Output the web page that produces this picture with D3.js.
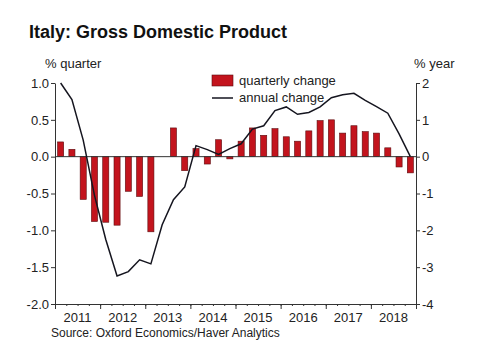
<!DOCTYPE html>
<html>
<head>
<meta charset="utf-8">
<script src="https://d3js.org/d3.v7.min.js"></script>
<style>
  html, body { margin: 0; padding: 0; background: #fff; }
  svg { display: block; font-family: "Liberation Sans", Arial, sans-serif; }
</style>
</head>
<body>
<div id="chart"></div>
<script>
// Italy GDP - quarterly change (bars, left axis) and annual change (line, right axis)
const years = [2011, 2012, 2013, 2014, 2015, 2016, 2017, 2018];
const quarters = years.flatMap(y => ['Q1', 'Q2', 'Q3', 'Q4'].map(q => y + q));

const quarterlyChange = [
  0.20, 0.10, -0.58, -0.88,
  -0.89, -0.93, -0.47, -0.54,
  -1.02, 0.00, 0.39, -0.19,
  0.11, -0.10, 0.23, -0.03,
  0.21, 0.39, 0.29, 0.38,
  0.27, 0.21, 0.35, 0.49,
  0.50, 0.32, 0.42, 0.34,
  0.32, 0.12, -0.14, -0.22
];

const annualChange = [
  2.00, 1.55, 0.45, -1.05,
  -2.25, -3.24, -3.12, -2.80,
  -2.91, -1.85, -1.17, -0.82,
  0.30, 0.19, 0.06, 0.22,
  0.35, 0.75, 0.84, 1.25,
  1.35, 1.15, 1.20, 1.35,
  1.60, 1.68, 1.72, 1.53,
  1.36, 1.18, 0.62, 0.00
];

const leftTicks = [-2.0, -1.5, -1.0, -0.5, 0.0, 0.5, 1.0];
const rightTicks = [-4, -3, -2, -1, 0, 1, 2];

const width = 480;
const height = 362;
const plot = { left: 55, right: 416, top: 83, bottom: 304 };

const svg = d3.select('#chart').append('svg')
  .attr('width', width)
  .attr('height', height);

// Scales
const x = d3.scaleLinear()
  .domain([2011, 2019])
  .range([plot.left, plot.right]);
const band = d3.scaleBand()
  .domain(quarters)
  .range([plot.left, plot.right])
  .paddingInner(0.46)
  .paddingOuter(0.23);
const yL = d3.scaleLinear().domain([-2, 1]).range([plot.bottom, plot.top]);
const yR = d3.scaleLinear().domain([-4, 2]).range([plot.bottom, plot.top]);

const axisColor = '#333';

// Title
svg.append('text')
  .attr('x', 29)
  .attr('y', 38)
  .style('font-size', '18px')
  .style('font-weight', '700')
  .style('fill', '#111')
  .text('Italy: Gross Domestic Product');

// Axis titles
svg.append('text')
  .attr('x', 45).attr('y', 68)
  .style('font-size', '13px').style('fill', '#222')
  .text('% quarter');
svg.append('text')
  .attr('x', 414).attr('y', 68)
  .style('font-size', '13px').style('fill', '#222')
  .text('% year');

// Bars
svg.append('g')
  .selectAll('rect')
  .data(quarterlyChange)
  .join('rect')
  .attr('x', (d, i) => band(quarters[i]))
  .attr('width', band.bandwidth())
  .attr('y', d => yL(Math.max(0, d)))
  .attr('height', d => Math.abs(yL(d) - yL(0)))
  .attr('fill', '#c3141d')
  .attr('stroke', '#5c0d10')
  .attr('stroke-width', 0.6);

// Zero line
svg.append('line')
  .attr('x1', plot.left).attr('x2', plot.right)
  .attr('y1', yL(0)).attr('y2', yL(0))
  .attr('stroke', axisColor)
  .attr('stroke-width', 1);

// Annual change line
const line = d3.line()
  .x((d, i) => band(quarters[i]) + band.bandwidth() / 2)
  .y(d => yR(d));
svg.append('path')
  .datum(annualChange)
  .attr('d', line)
  .attr('fill', 'none')
  .attr('stroke', '#15151f')
  .attr('stroke-width', 1.5);

// Left axis
const leftAxis = svg.append('g')
  .attr('transform', `translate(${plot.left},0)`)
  .call(d3.axisLeft(yL).tickValues(leftTicks).tickSize(4).tickSizeOuter(0)
    .tickFormat(d => d.toFixed(1)));

// Right axis
const rightAxis = svg.append('g')
  .attr('transform', `translate(${plot.right},0)`)
  .call(d3.axisRight(yR).tickValues(rightTicks).tickSize(4).tickSizeOuter(0)
    .tickFormat(d => String(d)));

[leftAxis, rightAxis].forEach(g => {
  g.selectAll('text').style('font-size', '13px').style('fill', '#222')
    .style('font-family', '"Liberation Sans", Arial, sans-serif');
  g.selectAll('line, path').attr('stroke', axisColor);
});
leftAxis.selectAll('text').attr('x', -6);
rightAxis.selectAll('text').attr('x', 6);

// Bottom axis: quarter minor ticks and year major ticks
const quarterTicks = d3.range(2011, 2019.01, 0.25);
const minorAxis = svg.append('g')
  .attr('transform', `translate(0,${plot.bottom})`)
  .call(d3.axisBottom(x).tickValues(quarterTicks).tickSize(2).tickSizeOuter(0).tickFormat(''));
const majorAxis = svg.append('g')
  .attr('transform', `translate(0,${plot.bottom})`)
  .call(d3.axisBottom(x).tickValues(d3.range(2011, 2020)).tickSize(5).tickSizeOuter(0).tickFormat(''));
[minorAxis, majorAxis].forEach(g => g.selectAll('line, path').attr('stroke', axisColor));

svg.append('g')
  .selectAll('text')
  .data(years)
  .join('text')
  .attr('x', d => x(d + 0.5))
  .attr('y', 322)
  .attr('text-anchor', 'middle')
  .style('font-size', '13px')
  .style('fill', '#222')
  .text(d => d);

// Legend
const legend = svg.append('g').attr('transform', 'translate(212,75)');
legend.append('rect')
  .attr('x', 0).attr('y', 0)
  .attr('width', 21).attr('height', 11)
  .attr('fill', '#c3141d')
  .attr('stroke', '#5c0d10')
  .attr('stroke-width', 0.6);
legend.append('text')
  .attr('x', 27).attr('y', 10)
  .style('font-size', '13px').style('fill', '#222')
  .text('quarterly change');
legend.append('line')
  .attr('x1', 0).attr('x2', 21)
  .attr('y1', 23).attr('y2', 23)
  .attr('stroke', '#15151f')
  .attr('stroke-width', 1.5);
legend.append('text')
  .attr('x', 27).attr('y', 27)
  .style('font-size', '13px').style('fill', '#222')
  .text('annual change');

// Source
svg.append('text')
  .attr('x', 51)
  .attr('y', 337)
  .style('font-size', '12px')
  .style('fill', '#222')
  .text('Source: Oxford Economics/Haver Analytics');
</script>
</body>
</html>
